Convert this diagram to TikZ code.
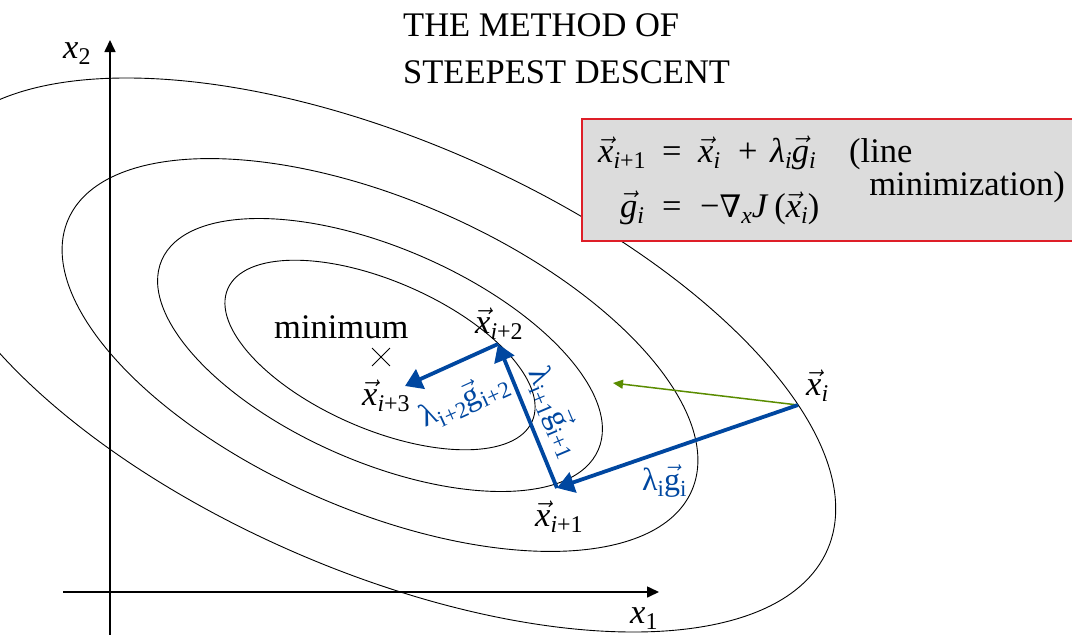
\documentclass[tikz,border=0pt]{standalone}
\usepackage{fix-cm}
\usepackage{fontspec}
\setmainfont{Liberation Serif}
\newfontfamily\dvs{DejaVu Serif}
\usetikzlibrary{arrows.meta,shapes.misc}
\definecolor{myblue}{RGB}{0,71,160}
\definecolor{mygreen}{RGB}{90,140,0}
\definecolor{boxred}{RGB}{222,30,40}
\definecolor{boxgray}{RGB}{220,220,220}
\newcommand{\vx}{\ensuremath{\vec{\mbox{\itshape x}}}}
\newcommand{\vgi}{\ensuremath{\vec{\mbox{\itshape g}}}}
\newcommand{\vgu}{\ensuremath{\vec{\mbox{g}}}}
\newcommand{\sbs}[1]{\raisebox{-0.2em}{\fontsize{24}{24}\selectfont #1}}
\newcommand{\sbu}[1]{\raisebox{-0.2em}{\fontsize{23}{23}\selectfont #1}}
\tikzset{
  every node/.style={font=\fontsize{34.5}{40}\selectfont, inner sep=0pt},
  contour/.style={draw=black, line width=0.9pt},
  axisline/.style={line width=1.6pt, -{Triangle[length=12pt,width=11pt]}},
  bluearrow/.style={draw=myblue, line width=3.8pt, -{Triangle[length=17pt,width=21pt]}},
  greenarrow/.style={draw=mygreen, line width=1.5pt, -{Triangle[length=10pt,width=9pt]}},
  bluelabel/.style={text=myblue, font=\fontsize{32}{36}\selectfont},
  tok/.style={anchor=base west},
}
\begin{document}
\begin{tikzpicture}[x=1pt,y=-1pt]
\useasboundingbox (0,0) rectangle (1072,635);
\clip (0,0) rectangle (1072,635);

% contour ellipses
\foreach \a/\b in {166/74,238/107,340/155,488/215}{
  \draw[contour, rotate around={-23.5:(380,355)}] (380,355) ellipse [x radius=\a pt, y radius=\b pt];
}

% axes
\coordinate (ybot) at (110,635);
\coordinate (ytop) at (110,40);
\coordinate (xleft) at (63,592);
\coordinate (xright) at (659,592);
\draw[axisline] (ybot) -- (ytop);
\draw[axisline] (xleft) -- (xright);
\node[tok] (lx2) at (63,58) {\textit{x}\sbs{2}};
\node[tok] (lx1) at (630,623) {\textit{x}\sbs{1}};

% title
\node[tok] (t1) at (403,36) {THE METHOD OF};
\node[tok] (t2) at (403,83) {STEEPEST DESCENT};

% equation box
\node[draw=boxred, fill=boxgray, line width=1.5pt, anchor=north west,
      minimum width=530pt, minimum height=122pt] (eqbox) at (581,118) {};
\node[tok] (e1a) at (598,162) {\vx\sbs{\textit{i}+1}};
\node[tok] (e1b) at (662,162) {=};
\node[tok] (e1c) at (698,162) {\vx\sbs{\textit{i}}};
\node[tok] (e1d) at (738,162) {+};
\node[tok] (e1e) at (770,162) {\textit{λ}\sbs{\textit{i}}\vgi\sbs{\textit{i}}};
\node[tok] (e1f) at (849,162) {(line};
\node[anchor=base east] (e1g) at (1065,195) {minimization)};
\node[tok] (e2a) at (620,217) {\vgi\sbs{\textit{i}}};
\node[tok] (e2b) at (662,217) {=};
\node[tok] (e2c) at (700,217) {−{\dvs\fontsize{31}{31}\selectfont ∇}\sbs{\textit{x}}\textit{J}\,(\vx\sbs{\textit{i}})};

% minimum
\node[draw, cross out, line width=0.9pt, minimum size=17pt] (minc) at (381,357) {};
\node[tok] (lmin) at (274,338) {minimum};

% iterate points
\coordinate (xi) at (798,405);
\coordinate (xi1) at (557,488);
\coordinate (xi2) at (498,344);
\coordinate (xi3) at (405,386);
\coordinate (gtip) at (613,383);

\draw[greenarrow] (xi) -- (gtip);
\draw[bluearrow] (xi) -- (xi1);
\draw[bluearrow] (xi1) -- (xi2);
\draw[bluearrow] (xi2) -- (xi3);

\node[tok] (lxi) at (806,395) {\vx\sbs{\textit{i}}};
\node[tok] (lxi1) at (535,526) {\vx\sbs{\textit{i}+1}};
\node[tok] (lxi2) at (475,333) {\vx\sbs{\textit{i}+2}};
\node[tok] (lxi3) at (362,405) {\vx\sbs{\textit{i}+3}};

% step labels
\node[bluelabel, tok] (lab1) at (642,490) {λ\sbu{i}\vgu\sbu{i}};
\node[bluelabel, rotate=24.5] (lab3) at (464,400) {λ\sbu{i+2}\vgu\sbu{i+2}};
\node[bluelabel, rotate=-67] (lab2) at (555,412) {λ\sbu{i+1}\vgu\sbu{i+1}};
\end{tikzpicture}
\end{document}
